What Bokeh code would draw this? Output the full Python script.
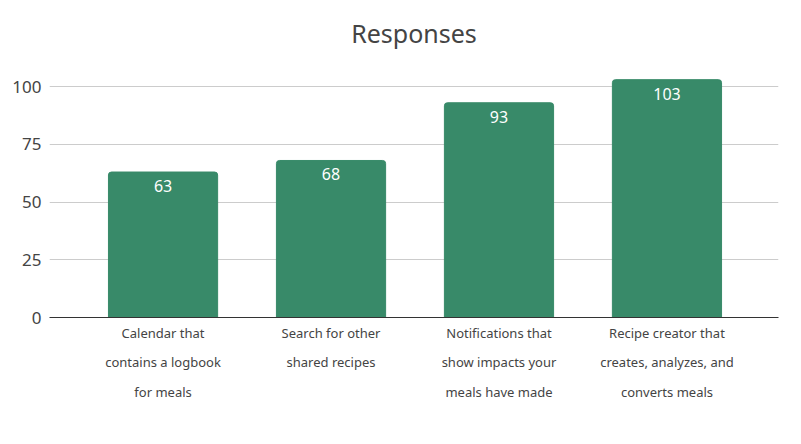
from bokeh.plotting import figure
from bokeh.models import ColumnDataSource, FixedTicker, Range1d, LabelSet
from bokeh.core.properties import value
from bokeh.embed import file_html
from bokeh.resources import INLINE

categories = [
    "Calendar that\ncontains a logbook\nfor meals",
    "Search for other\nshared recipes",
    "Notifications that\nshow impacts your\nmeals have made",
    "Recipe creator that\ncreates, analyzes, and\nconverts meals",
]
responses = [63, 68, 93, 103]
y_ticks = [0, 25, 50, 75, 100]

FONT = "Noto Sans"
xs = list(range(len(categories)))
source = ColumnDataSource(dict(x=xs, y=responses, label=[str(v) for v in responses]))

p = figure(width=801, height=444, output_backend="svg", toolbar_location=None,
           x_range=Range1d(-0.676, 3.664), y_range=Range1d(0, 111.3),
           min_border_left=49, min_border_right=23, min_border_bottom=127, min_border_top=60)

p.vbar(x="x", top="y", width=0.65, source=source, color="#388a69", border_radius=(3, 3, 0, 0))

labels = LabelSet(x="x", y="y", text="label", source=source, y_offset=-8,
                  text_align="center", text_baseline="top", text_color="white",
                  text_font=value(FONT), text_font_size="16px")
p.add_layout(labels)

p.title.text = "Responses"
p.title.align = "center"
p.title.text_font = FONT
p.title.text_font_size = "25px"
p.title.text_font_style = "normal"
p.title.text_color = "#444444"
p.title.standoff = 22

p.xaxis.ticker = FixedTicker(ticks=xs)
p.xaxis.major_label_overrides = {i: c for i, c in enumerate(categories)}
p.xaxis.major_label_text_font = FONT
p.xaxis.major_label_text_font_size = "13px"
p.xaxis.major_label_text_color = "#444444"
p.xaxis.major_label_text_line_height = 1.66
p.xaxis.major_tick_line_color = None
p.xaxis.minor_tick_line_color = None
p.xaxis.axis_line_color = "#333333"
p.xaxis.major_label_standoff = 0

p.yaxis.ticker = FixedTicker(ticks=y_ticks)
p.yaxis.major_label_text_font = FONT
p.yaxis.major_label_text_font_size = "17px"
p.yaxis.major_label_text_color = "#444444"
p.yaxis.major_tick_line_color = None
p.yaxis.minor_tick_line_color = None
p.yaxis.axis_line_color = None
p.yaxis.major_label_standoff = 2

p.xgrid.grid_line_color = None
p.ygrid.grid_line_color = "#cccccc"
p.ygrid.ticker = FixedTicker(ticks=y_ticks[1:])
p.outline_line_color = None

open("out.html", "w").write(file_html(p, INLINE))
